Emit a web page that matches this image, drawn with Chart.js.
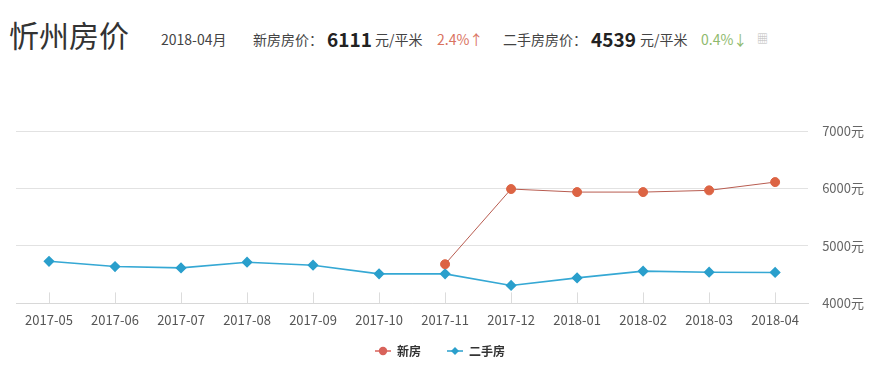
<!DOCTYPE html>
<html>
<head>
<meta charset="utf-8">
<script src="https://cdn.jsdelivr.net/npm/chart.js@4"></script>
<style>
  html, body { margin: 0; padding: 0; background: #fff; }
  body { width: 883px; height: 384px; position: relative; overflow: hidden;
         font-family: "Noto Sans CJK SC", "Noto Sans", sans-serif; color: #333; }
  .t { position: absolute; white-space: nowrap; line-height: 1; }
  #chartWrap { position: absolute; left: 0; top: 0; width: 883px; height: 384px; }
</style>
</head>
<body>
<div class="t" style="left:9px;top:19px;font-size:30px;color:#333;">忻州房价</div>
<div class="t" style="left:161px;top:32px;font-size:14px;color:#444;">2018-04月</div>
<div class="t" style="left:253px;top:32px;font-size:14px;color:#444;">新房房价：</div>
<div class="t" style="left:327px;top:29px;font-size:19px;font-weight:bold;color:#222;">6111</div>
<div class="t" style="left:375px;top:32px;font-size:14px;color:#444;">元/平米</div>
<div class="t" style="left:437px;top:32px;font-size:14px;color:#d9735f;">2.4%↑</div>
<div class="t" style="left:503px;top:32px;font-size:14px;color:#444;">二手房房价：</div>
<div class="t" style="left:591px;top:29px;font-size:19px;font-weight:bold;color:#222;">4539</div>
<div class="t" style="left:640px;top:32px;font-size:14px;color:#444;">元/平米</div>
<div class="t" style="left:701px;top:32px;font-size:14px;color:#8fba6e;">0.4%↓</div>
<div class="t" style="left:757px;top:33px;font-size:11px;color:#bbb;">▦</div>
<div id="chartWrap"><canvas id="c" width="883" height="384"></canvas></div>
<script>
const categories = ['2017-05','2017-06','2017-07','2017-08','2017-09','2017-10','2017-11','2017-12','2018-01','2018-02','2018-03','2018-04'];
const newHousePrices = [null, null, null, null, null, null, 4682, 5990, 5937, 5937, 5967, 6111];
const secondHandPrices = [4733, 4642, 4618, 4717, 4665, 4514, 4514, 4312, 4444, 4561, 4543, 4539];
const seriesNames = ['新房', '二手房'];
const yMin = 4000, yMax = 7000, yStep = 1000;
const yUnit = '元';

const redMarker = '#dc6444';
const redLine = '#b85c50';
const blueMarker = '#2a9fcc';
const blueLine = '#35a8d4';

// legend icon: small transparent gap on the left, then a short line with the marker
function legendIcon(kind, color) {
  const cv = document.createElement('canvas');
  const gap = 8;
  cv.width = 16 + gap; cv.height = 10;
  const g = cv.getContext('2d');
  g.strokeStyle = color; g.lineWidth = 1.5;
  g.beginPath(); g.moveTo(gap, 5); g.lineTo(gap + 16, 5); g.stroke();
  g.fillStyle = color;
  g.beginPath();
  const cx = gap + 8;
  if (kind === 'circle') { g.arc(cx, 5, 4.2, 0, Math.PI * 2); }
  else { g.moveTo(cx, 1); g.lineTo(cx + 4, 5); g.lineTo(cx, 9); g.lineTo(cx - 4, 5); g.closePath(); }
  g.fill();
  return cv;
}
const icons = [legendIcon('circle', '#d8625a'), legendIcon('diamond', blueMarker)];

const innerTicks = {
  id: 'innerTicks',
  afterDatasetsDraw(chart) {
    const x = chart.scales.x, ctx = chart.ctx, bottom = chart.chartArea.bottom;
    ctx.save();
    ctx.strokeStyle = '#dcdcdc'; ctx.lineWidth = 1;
    for (let i = 0; i < x.ticks.length; i++) {
      const px = Math.round(x.getPixelForTick(i)) + 0.5;
      ctx.beginPath(); ctx.moveTo(px, bottom - 11); ctx.lineTo(px, bottom); ctx.stroke();
    }
    ctx.restore();
  }
};

// centre the legend under the plot area rather than the whole canvas
const legendShift = {
  id: 'legendShift',
  afterLayout(chart) {
    if (chart.legend) { chart.legend.right -= 22; }
  }
};

new Chart(document.getElementById('c'), {
  type: 'line',
  data: {
    labels: categories,
    datasets: [
      { label: seriesNames[0], data: newHousePrices, borderColor: redLine, backgroundColor: redMarker,
        pointBackgroundColor: redMarker, pointBorderColor: redMarker, pointStyle: 'circle',
        pointRadius: 4.5, borderWidth: 1, tension: 0, spanGaps: false },
      { label: seriesNames[1], data: secondHandPrices, borderColor: blueLine, backgroundColor: blueMarker,
        pointBackgroundColor: blueMarker, pointBorderColor: blueMarker, pointStyle: 'rectRot',
        pointRadius: 4.5, borderWidth: 1.6, tension: 0 }
    ]
  },
  options: {
    responsive: false,
    animation: false,
    layout: { padding: { left: 16, right: 5, top: 131, bottom: 17 } },
    plugins: {
      tooltip: { enabled: false },
      legend: {
        position: 'bottom',
        labels: {
          usePointStyle: true,
          pointStyleWidth: 24,
          padding: 18,
          color: '#333',
          font: { family: '"Noto Sans CJK SC", sans-serif', size: 12, weight: 'bold' },
          generateLabels(chart) {
            const items = Chart.defaults.plugins.legend.labels.generateLabels(chart);
            items.forEach((it, i) => { it.pointStyle = icons[i]; });
            return items;
          }
        }
      }
    },
    scales: {
      x: {
        type: 'category',
        offset: true,
        grid: { display: false, drawTicks: false },
        border: { display: true, color: '#d8d8d8', width: 1 },
        ticks: { color: '#555', padding: 9, maxRotation: 0, autoSkip: false,
                 font: { family: '"Noto Sans CJK SC", sans-serif', size: 13 } },
        afterFit(scale) { scale.height = scale.height - 10; }
      },
      y: {
        position: 'right',
        min: yMin, max: yMax,
        grid: { color: '#e2e2e2', drawTicks: false },
        border: { display: false },
        ticks: { stepSize: yStep, color: '#666', padding: 14,
                 font: { family: '"Noto Sans CJK SC", sans-serif', size: 13 },
                 callback: v => v + yUnit }
      }
    }
  },
  plugins: [innerTicks, legendShift]
});
</script>
</body>
</html>
